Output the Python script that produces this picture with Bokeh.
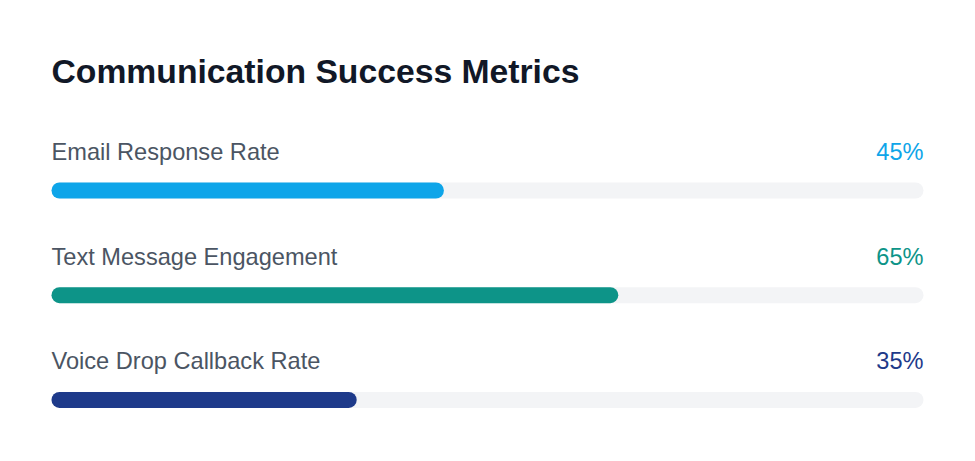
from bokeh.plotting import figure
from bokeh.models import ColumnDataSource, Range1d
from bokeh.core.properties import value
from bokeh.embed import file_html
from bokeh.resources import INLINE

title = "Communication Success Metrics"
metrics = ["Email Response Rate", "Text Message Engagement", "Voice Drop Callback Rate"]
rates = [45, 65, 35]
colors = ["#0ea5e9", "#0d9488", "#1e3a8a"]

W, H = 975, 461
# x in percent: 0 -> 51px, 100 -> 923px
px_per = 872 / 100
x0 = -51 / px_per

row_gap = 104.7
bar_y = [190 + i * row_gap for i in range(len(metrics))]
label_y = [y - 38.5 for y in bar_y]

source = ColumnDataSource(dict(
    metric=metrics,
    rate=rates,
    pct=[f"{r}%" for r in rates],
    color=colors,
    bar_y=bar_y,
    label_y=label_y,
    zero=[0] * len(rates),
    full=[100] * len(rates),
))

p = figure(width=W, height=H, output_backend="svg", toolbar_location=None,
           x_range=Range1d(x0, x0 + W / px_per), y_range=Range1d(H, 0),
           min_border=0)
p.axis.visible = False
p.grid.visible = False
p.outline_line_color = None
p.background_fill_color = "white"
p.border_fill_color = "white"

font = value("Liberation Sans")

# tracks
p.hbar(y="bar_y", left="zero", right="full", height=16, source=source,
       fill_color="#f3f4f6", line_color=None, border_radius=8)
# bars
p.hbar(y="bar_y", left="zero", right="rate", height=16, source=source,
       fill_color="color", line_color=None, border_radius=8)

# labels
p.text(x="zero", y="label_y", text="metric", source=source, text_font=font,
       text_font_size="23.6px", text_color="#4b5563", text_baseline="alphabetic")
p.text(x="full", y="label_y", text="pct", source=source, text_font=font,
       text_font_size="23.6px", text_color="color", text_align="right",
       text_baseline="alphabetic")

# title
p.text(x=[0], y=[70], text=[title], text_font=font, text_font_size="33.7px",
       text_font_style="bold", text_color="#111827", text_baseline="alphabetic")

open("out.html", "w").write(file_html(p, INLINE))
